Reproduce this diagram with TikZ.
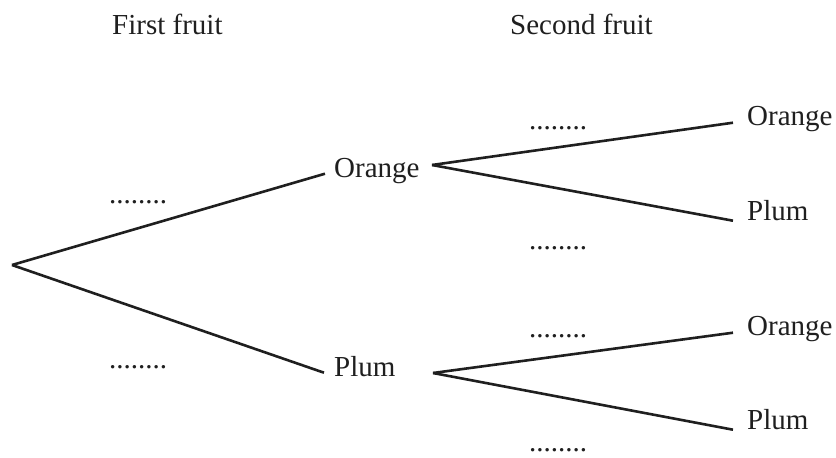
\documentclass[tikz,border=0pt]{standalone}
\usepackage{fontspec}
\setmainfont{LiberationSerif}[Extension=.ttf,UprightFont=*-Regular,BoldFont=*-Bold]
\begin{document}
\begin{tikzpicture}[x=1pt,y=-1pt,
  lbl/.style={inner sep=0pt,anchor=base west,font=\fontsize{29}{34}\selectfont,text=black!88},
  dotsl/.style={inner sep=0pt,anchor=base,font=\fontsize{29}{34}\selectfont,text=black!88},
  br/.style={line width=2.6pt,draw=black!88}]
\useasboundingbox (0,0) rectangle (836,458);
\node[lbl] (h1) at (112,34) {First fruit};
\node[lbl] (h2) at (510,34) {Second fruit};
\coordinate (root) at (12,265);
\node[lbl] (o1) at (334,177) {Orange};
\node[lbl] (p1) at (334,376) {Plum};
\coordinate (b1) at (432,165);
\coordinate (b2) at (433,373);
\node[lbl] (o2a) at (747,125) {Orange};
\node[lbl] (p2a) at (747,220) {Plum};
\node[lbl] (o2b) at (747,335) {Orange};
\node[lbl] (p2b) at (747,429) {Plum};
\node[dotsl] (d1) at (138,203) {........};
\node[dotsl] (d2) at (138,368) {........};
\node[dotsl] (d3) at (558,129) {........};
\node[dotsl] (d4) at (558,249) {........};
\node[dotsl] (d5) at (558,337) {........};
\node[dotsl] (d6) at (558,451) {........};
\draw[br] (root) -- ([xshift=-9pt,yshift=1pt]o1.mid west);
\draw[br] (root) -- ([xshift=-10pt,yshift=1pt]p1.mid west);
\draw[br] (b1) -- ([xshift=-14pt]o2a.mid west);
\draw[br] (b1) -- ([xshift=-14pt,yshift=-3pt]p2a.mid west);
\draw[br] (b2) -- ([xshift=-14pt]o2b.mid west);
\draw[br] (b2) -- ([xshift=-14pt,yshift=-3pt]p2b.mid west);
\end{tikzpicture}
\end{document}
